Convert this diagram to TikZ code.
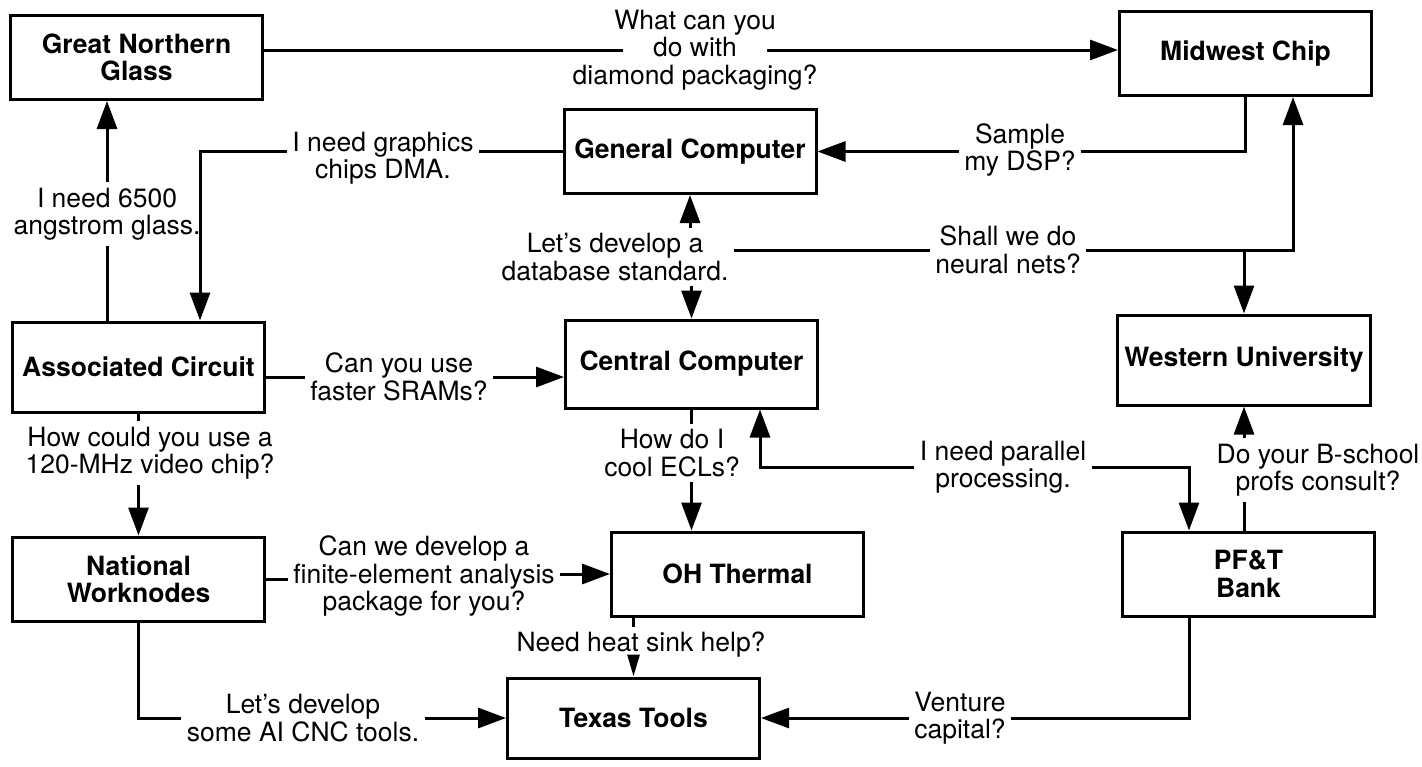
\documentclass[tikz,border=0pt]{standalone}
\usepackage{fontspec}
\setmainfont{TeX Gyre Heros}
\usetikzlibrary{arrows.meta}

\begin{document}
\begin{tikzpicture}[x=0.5pt, y=-0.5pt, line width=1.5pt,
  >={Triangle[length=14pt, width=10pt]},
  firm/.style={draw, minimum width=126pt, minimum height=42pt, align=center,
    font=\bfseries\fontsize{13.25}{13.75}\selectfont},
  msg/.style={align=center, inner sep=2pt, font=\fontsize{13.25}{13.75}\selectfont},
  tipsm/.style={-{Triangle[length=11pt, width=6pt]}}]
  \useasboundingbox (0,0) rectangle (1422,766);

  \coordinate (xDma) at (200,0);
  \coordinate (xMid) at (1293,0);
  \coordinate (xPar) at (760,0);
  \coordinate (xBank) at (1189,0);

  % firms
  \node[firm] (gng) at (136.5,57.5) {Great Northern\\Glass};
  \node[firm] (mwc) at (1245.5,53.5) {Midwest Chip};
  \node[firm] (gen) at (690,151.5) {General Computer};
  \node[firm, minimum height=45pt] (asc) at (138.5,367) {Associated Circuit};
  \node[firm, minimum height=44pt] (cen) at (691.5,364) {Central Computer};
  \node[firm, minimum height=45pt] (wun) at (1244,360) {Western University};
  \node[firm] (nwk) at (138.5,579) {National\\Worknodes};
  \node[firm] (ohT) at (737.5,574) {OH Thermal};
  \node[firm] (pft) at (1248.5,574) {PF\&T\\Bank};
  \node[firm, minimum height=40pt] (tex) at (633.5,718) {Texas Tools};

  % messages
  \node[msg] (lWhat) at (695,50) {What can you\\do with\\diamond packaging?};
  \node[msg] (lGraph) at (383,158) {I need graphics\\chips DMA.};
  \node[msg] (l6500) at (107,214) {I need 6500\\angstrom glass.};
  \node[msg] (lSample) at (1020,150) {Sample\\my DSP?};
  \node[msg] (lDb) at (615,257) {Let's develop a\\database standard.};
  \node[msg] (lShall) at (1008,250) {Shall we do\\neural nets?};
  \node[msg] (lSRAM) at (399,377) {Can you use\\faster SRAMs?};
  \node[msg] (lVideo) at (150,453) {How could you use a\\120-MHz video chip?};
  \node[msg] (lECL) at (672,453) {How do I\\cool ECLs?};
  \node[msg] (lPar) at (1003,467) {I need parallel\\processing.};
  \node[msg] (lBsch) at (1318,470) {Do your B-school\\profs consult?};
  \node[msg] (lFEA) at (424,576) {Can we develop a\\finite-element analysis\\package for you?};
  \node[msg] (lSink) at (641,645) {Need heat sink help?};
  \node[msg] (lCNC) at (303,718) {Let's develop\\some AI CNC tools.};
  \node[msg] (lVent) at (960,718) {Venture\\capital?};

  \draw (lWhat.center -| gng.east) -- ([xshift=-36pt]lWhat.center);
  \draw[->] ([xshift=36pt]lWhat.center) -- (lWhat.center -| mwc.west);

  \draw[->] (l6500.north) -- (l6500.north |- gng.south);
  \draw (l6500.south) -- (l6500.south |- asc.north);

  \draw (gen.west) -- (gen.west -| lGraph.east);
  \draw[->] (lGraph.west |- gen.west) -| (asc.north -| xDma);

  \draw (mwc.south) |- (lSample.east |- gen.east);
  \draw[->] (lSample.west |- gen.east) -- (gen.east);

  \draw[->] (lDb.north -| gen.south) -- (gen.south);
  \draw[->] (lDb.south -| cen.north) -- (cen.north);
  \draw (lDb.east |- lShall.west) -- (lShall.west);
  \draw[->] (lShall.east) -| (mwc.south -| xMid);
  \draw[->] (lShall.east -| wun.north) -- (wun.north);

  \draw (lSRAM.west -| asc.east) -- (lSRAM.west);
  \draw[->] (lSRAM.east) -- (lSRAM.east -| cen.west);

  \draw (asc.south) -- (asc.south |- lVideo.north);
  \draw[->] (asc.south |- lVideo.south) -- (nwk.north);

  \draw (cen.south) -- (cen.south |- lECL.north);
  \draw[->] (cen.south |- lECL.south) -- (cen.south |- ohT.north);

  \draw[->] (lPar.west) -| (cen.south -| xPar);
  \draw[->] (lPar.east) -| (pft.north -| xBank);

  \draw (pft.north -| wun.south) -- (lBsch.south -| wun.south);
  \draw[->] (lBsch.north -| wun.south) -- (wun.south);

  \draw (nwk.east) -- (nwk.east -| lFEA.west);
  \draw[->] (lFEA.east |- ohT.west) -- (ohT.west);

  \draw (tex.north |- ohT.south) -- (tex.north |- lSink.north);
  \draw[tipsm] (tex.north |- lSink.south) -- (tex.north);

  \draw (nwk.south) |- (lCNC.west);
  \draw[->] (lCNC.east) -- (lCNC.east -| tex.west);

  \draw (pft.south -| xBank) |- (lVent.east);
  \draw[->] (lVent.west) -- (lVent.west -| tex.east);
\end{tikzpicture}
\end{document}
